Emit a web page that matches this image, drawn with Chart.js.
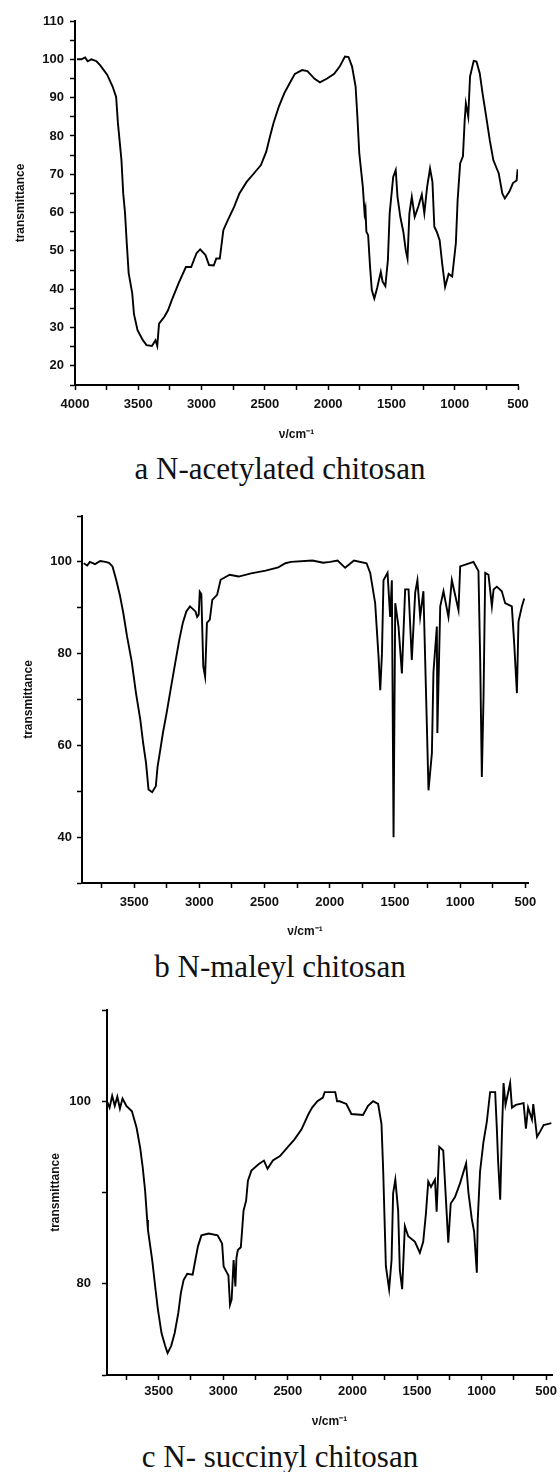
<!DOCTYPE html>
<html lang="en">
<head>
  <meta charset="UTF-8" />
  <title>FTIR spectra of modified chitosan</title>
  <script src="https://cdn.jsdelivr.net/npm/chart.js"></script>
  <style>
    body {
      margin: 0;
      background: #fff;
      width: 560px;
      height: 1472px;
      position: relative;
      overflow: hidden;
    }
    .panel {
      position: absolute;
      left: 0;
    }
    .panel canvas {
      display: block;
    }
    .caption {
      position: absolute;
      left: 0;
      width: 560px;
      text-align: center;
      font-family: "Liberation Serif", "Times New Roman", serif;
      font-size: 31px;
      line-height: 32px;
      color: #111;
    }
  </style>
</head>
<body>
  <div class="panel" style="top:0px"><canvas id="chartA" width="560" height="442"></canvas></div>
  <div class="caption" style="top:453px">a N-acetylated chitosan</div>

  <div class="panel" style="top:490px"><canvas id="chartB" width="560" height="449"></canvas></div>
  <div class="caption" style="top:951px">b N-maleyl chitosan</div>

  <div class="panel" style="top:990px"><canvas id="chartC" width="560" height="439"></canvas></div>
  <div class="caption" style="top:1441px">c N- succinyl chitosan</div>

  <script>
    // a: N-acetylated chitosan
    const aWavenumber = [
      3985, 3950, 3920, 3900, 3870, 3830, 3802, 3746, 3703, 3675,
      3661, 3633, 3619, 3605, 3591, 3576, 3548, 3534, 3506, 3464,
      3435, 3392, 3364, 3350, 3336, 3294, 3265, 3237, 3181, 3124,
      3082, 3040, 3011, 2969, 2941, 2904, 2884, 2856, 2828, 2799,
      2743, 2701, 2644, 2587, 2531, 2489, 2460, 2432, 2390, 2347,
      2305, 2263, 2206, 2164, 2107, 2065, 2008, 1952, 1909, 1867,
      1839, 1811, 1783, 1769, 1754, 1726, 1712, 1705, 1698, 1684,
      1669, 1655, 1635, 1613, 1584, 1570, 1548, 1528, 1514, 1486,
      1466, 1452, 1430, 1406, 1387, 1373, 1358, 1339, 1316, 1288,
      1260, 1240, 1218, 1195, 1176, 1161, 1142, 1119, 1099, 1076,
      1048, 1020, 991, 977, 957, 935, 921, 912, 893, 879,
      850, 828, 802, 780, 751, 723, 695, 652, 624, 604,
      568, 540, 511, 503
    ];
    const aTransmittance = [
      100, 100, 100.5, 99.5, 100, 99.5, 98.5, 96, 92.9, 90.2,
      83.4, 73.7, 65, 60, 52, 44.2, 39, 33.5, 29.3, 26.7,
      25.4, 25.2, 26.7, 25.2, 31, 32.8, 34.5, 37, 41.6, 45.8,
      45.8, 49.4, 50.4, 48.9, 46.3, 46.2, 48, 48, 55.4, 57.6,
      61.5, 65, 68, 70.2, 72.4, 75.9, 79.8, 83.3, 87.6, 91.1,
      93.7, 96.2, 97.2, 96.9, 94.9, 94, 95, 96.2, 98.1, 100.7,
      100.6, 98.1, 92.9, 85, 75.5, 66.7, 59.8, 61, 55, 54.1,
      45.9, 39.8, 37.6, 40.3, 44.5, 42, 40.8, 47.6, 59.8, 69.3,
      71.1, 64.1, 58.9, 55, 50.2, 48, 59.8, 64.1, 58.9, 61.5,
      64.7, 59.8, 66.7, 71.5, 68, 56.3, 55, 52.8, 46.7, 40.6,
      44, 43.3, 52, 63.3, 72.8, 74.7, 84.2, 88.5, 85, 95.5,
      99.6, 99.4, 96.3, 91.1, 85, 78.9, 73.7, 70.2, 65, 63.7,
      65.5, 67.7, 68.4, 71.3
    ];

    // b: N-maleyl chitosan
    const bWavenumber = [
      3887, 3860, 3840, 3800, 3760, 3720, 3693, 3666, 3638, 3610,
      3583, 3555, 3519, 3486, 3453, 3431, 3409, 3390, 3362, 3334,
      3320, 3307, 3279, 3251, 3216, 3183, 3154, 3127, 3100, 3072,
      3030, 3017, 3005, 2997, 2985, 2970, 2956, 2942, 2920, 2901,
      2864, 2837, 2768, 2699, 2603, 2492, 2395, 2340, 2298, 2133,
      2050, 1997, 1940, 1882, 1815, 1718, 1690, 1652, 1626, 1613,
      1600, 1588, 1557, 1537, 1524, 1511, 1498, 1473, 1447, 1422,
      1396, 1371, 1345, 1328, 1307, 1282, 1256, 1243, 1217, 1205,
      1179, 1175, 1153, 1128, 1090, 1064, 1013, 1000, 898, 860,
      847, 834, 821, 808, 783, 757, 744, 719, 681, 655,
      604, 586, 565, 553, 527, 509
    ];
    const bTransmittance = [
      99.7, 99.2, 100, 99.5, 100.2, 100, 99.8, 99, 96.1, 92.8,
      88.8, 83.8, 78.3, 71.4, 65.6, 60.5, 56.2, 50.4, 49.8, 51.1,
      55.5, 57.7, 62.8, 67.1, 72.9, 78.3, 83, 86.7, 89.2, 90.3,
      89.2, 88, 88.5, 93.5, 93, 77.2, 75, 86.7, 87.4, 91.7,
      92.8, 96.1, 97.2, 96.8, 97.5, 98.1, 98.8, 99.7, 100, 100.3,
      99.8, 100, 100.3, 98.7, 100.3, 99.7, 97.6, 91, 79.3, 72,
      80, 96, 97.6, 88, 96, 40, 91, 85.9, 75.7, 94,
      94, 78.6, 93.3, 96, 88, 93.6, 64.8, 50.2, 58.3, 76,
      85.9, 62.7, 90.3, 93.6, 88, 96, 89.5, 99, 100, 98,
      79.3, 53.1, 70.5, 97.6, 97.2, 90.3, 94, 94.6, 93.6, 91,
      90.3, 82.3, 71.4, 87, 90.3, 92
    ];

    // c: N-succinyl chitosan
    const cWavenumber = [
      3900, 3880, 3860, 3840, 3820, 3800, 3780, 3750, 3707, 3671,
      3643, 3624, 3605, 3589, 3583, 3550, 3527, 3506, 3478, 3450,
      3431, 3403, 3376, 3348, 3328, 3307, 3279, 3237, 3216, 3196,
      3169, 3113, 3044, 3009, 2997, 2975, 2960, 2948, 2935, 2920,
      2906, 2898, 2887, 2864, 2856, 2843, 2823, 2809, 2782, 2727,
      2685, 2657, 2616, 2561, 2506, 2450, 2395, 2340, 2312, 2271,
      2229, 2215, 2133, 2119, 2099, 2047, 2008, 1918, 1879, 1840,
      1801, 1775, 1762, 1741, 1716, 1697, 1685, 1668, 1646, 1633,
      1615, 1594, 1568, 1516, 1478, 1452, 1431, 1413, 1392, 1361,
      1348, 1328, 1297, 1276, 1258, 1239, 1206, 1167, 1120, 1102,
      1076, 1058, 1037, 1030, 1012, 986, 960, 934, 895, 882,
      872, 856, 843, 830, 815, 779, 765, 735, 675, 657,
      640, 610, 600, 571, 546, 520, 490, 460
    ];
    const cTransmittance = [
      100, 99.3, 100.6, 99.5, 100.5, 99.2, 100.3, 99.5, 98.9, 97.1,
      94.9, 92.8, 90.2, 87, 85.9, 82.6, 79.7, 77.2, 74.6, 73.2,
      72.4, 73.2, 74.6, 76.8, 79, 80.4, 81.1, 81, 82.6, 84.1,
      85.3, 85.5, 85.3, 84.4, 81.9, 81.3, 80.9, 77.7, 78.3, 82.6,
      79.7, 82.8, 83.7, 84, 85.5, 88, 89.1, 91.3, 92.4, 93.1,
      93.5, 92.6, 93.5, 94, 94.9, 95.8, 96.9, 98.6, 99.3, 100,
      100.4, 101, 101, 100, 100, 99.7, 98.6, 98.5, 99.5, 100,
      99.7, 97.5, 92.5, 81.9, 79.4, 82.6, 89.9, 91.4, 88, 81.5,
      79.4, 86.3, 85.2, 84.6, 83.4, 84.6, 87.7, 91.2, 90.6, 91.4,
      87.9, 95, 94.6, 89.2, 84.5, 88.8, 89.5, 91, 93.2, 90,
      87.1, 85.7, 81.2, 87, 92.3, 95.5, 97.7, 101, 101, 97,
      93.4, 89.2, 96.3, 102, 99.6, 102, 99.3, 99.6, 99.8, 97,
      99.3, 98, 99.7, 96.1, 96.7, 97.4, 97.5, 97.6
    ];

    // tick marks (every 250 cm-1) and labelled ticks
    const xTicksA = [500, 750, 1000, 1250, 1500, 1750, 2000, 2250, 2500, 2750, 3000, 3250, 3500, 3750, 4000];
    const xTicksBC = [500, 750, 1000, 1250, 1500, 1750, 2000, 2250, 2500, 2750, 3000, 3250, 3500, 3750];
    const xLabelsA = [4000, 3500, 3000, 2500, 2000, 1500, 1000, 500];
    const xLabelsBC = [3500, 3000, 2500, 2000, 1500, 1000, 500];
    const yLabelsA = [20, 30, 40, 50, 60, 70, 80, 90, 100, 110];
    const yLabelsB = [40, 60, 80, 100];
    const yLabelsC = [80, 100];

    const tickFont = { family: '"Liberation Sans", Arial, sans-serif', size: 13, weight: 'bold' };
    const titleFont = { family: '"Liberation Sans", Arial, sans-serif', size: 12, weight: 'bold' };

    function makeSpectrum(id, waves, values, xTicks, xLabels, yLabels, box) {
      const points = waves.map((w, i) => ({ x: w, y: values[i] }));
      return new Chart(document.getElementById(id), {
        type: 'line',
        data: {
          datasets: [{
            data: points,
            borderColor: '#000',
            borderWidth: 1.9,
            pointRadius: 0,
            tension: 0,
            fill: false
          }]
        },
        options: {
          responsive: false,
          animation: false,
          events: [],
          layout: { padding: { left: box.padLeft, top: box.padTop, right: box.padRight, bottom: 0 } },
          plugins: { legend: { display: false }, tooltip: { enabled: false } },
          scales: {
            x: {
              type: 'linear',
              reverse: true,
              min: box.xMin,
              max: box.xMax,
              border: { display: true, color: '#000', width: 2 },
              grid: { drawOnChartArea: false, drawTicks: true, tickLength: 5, tickWidth: 1.5, tickColor: '#000' },
              afterBuildTicks: s => { s.ticks = xTicks.map(v => ({ value: v })); },
              ticks: {
                autoSkip: false,
                maxRotation: 0,
                padding: box.xTickPad,
                color: '#111',
                font: tickFont,
                callback: v => xLabels.includes(v) ? String(v) : ''
              },
              title: { display: true, text: 'ν/cm⁻¹', color: '#111', font: titleFont, padding: 0 },
              afterFit: s => { s.height = box.xAxisHeight; }
            },
            y: {
              type: 'linear',
              min: box.yMin,
              max: box.yMax,
              border: { display: true, color: '#000', width: 2 },
              grid: { drawOnChartArea: false, drawTicks: true, tickLength: 5, tickWidth: 1.5, tickColor: '#000' },
              ticks: {
                stepSize: box.yStep,
                includeBounds: false,
                autoSkip: false,
                padding: box.yTickPad,
                color: '#111',
                font: tickFont,
                callback: v => yLabels.includes(v) ? String(v) : ''
              },
              title: { display: true, text: 'transmittance', color: '#111', font: titleFont, padding: 0 },
              afterFit: s => { s.width = box.yAxisWidth; }
            }
          }
        }
      });
    }

    makeSpectrum('chartA', aWavenumber, aTransmittance, xTicksA, xLabelsA, yLabelsA, {
      padLeft: 13, padTop: 21, padRight: 42, yAxisWidth: 62, xAxisHeight: 57,
      xMin: 500, xMax: 4000, yMin: 15, yMax: 110, yStep: 5, yTickPad: 6, xTickPad: 7
    });
    makeSpectrum('chartB', bWavenumber, bTransmittance, xTicksBC, xLabelsBC, yLabelsB, {
      padLeft: 21, padTop: 26, padRight: 32, yAxisWidth: 61, xAxisHeight: 56,
      xMin: 480, xMax: 3900, yMin: 30, yMax: 110, yStep: 10, yTickPad: 5, xTickPad: 7
    });
    makeSpectrum('chartC', cWavenumber, cTransmittance, xTicksBC, xLabelsBC, yLabelsC, {
      padLeft: 48, padTop: 20, padRight: 8, yAxisWidth: 59, xAxisHeight: 54,
      xMin: 455, xMax: 3900, yMin: 70, yMax: 110, yStep: 10, yTickPad: 11, xTickPad: 4
    });
  </script>
</body>
</html>
